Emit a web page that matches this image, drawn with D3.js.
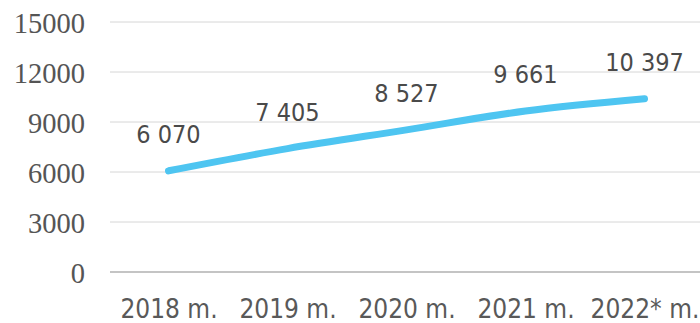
<!DOCTYPE html>
<html>
<head>
<meta charset="utf-8">
<script src="https://cdn.jsdelivr.net/npm/d3@7"></script>
<style>
  html, body { margin: 0; padding: 0; background: #fff; }
  svg { display: block; }
</style>
</head>
<body>
<svg id="chart" width="700" height="323"></svg>
<script>
// Yearly totals
const years = ["2018 m.", "2019 m.", "2020 m.", "2021 m.", "2022* m."];
const values = [6070, 7405, 8527, 9661, 10397];
const yTicks = [0, 3000, 6000, 9000, 12000, 15000];
const valueLabels = ["6 070", "7 405", "8 527", "9 661", "10 397"];

const svg = d3.select("#chart");
const margin = { left: 109, right: -4, top: 22, bottom: 51 };
const W = 700, H = 323;

const x = d3.scalePoint()
  .domain(years)
  .range([margin.left, W - margin.right])
  .padding(0.5);

const y = d3.scaleLinear()
  .domain([0, 15000])
  .range([H - margin.bottom, margin.top]);

// Horizontal gridlines
svg.append("g")
  .selectAll("line")
  .data(yTicks.filter(d => d > 0))
  .join("line")
  .attr("x1", 110).attr("x2", W)
  .attr("y1", d => y(d)).attr("y2", d => y(d))
  .attr("stroke", "#d6d6d6")
  .attr("stroke-width", 1);

// Baseline
svg.append("line")
  .attr("x1", 110).attr("x2", W)
  .attr("y1", y(0)).attr("y2", y(0))
  .attr("stroke", "#c4c4c4")
  .attr("stroke-width", 2);

// Y axis labels
const yAxis = d3.axisLeft(y).tickValues(yTicks).tickSize(0).tickPadding(0)
  .tickFormat(d3.format("d"));
const gy = svg.append("g").attr("transform", "translate(85,0)").call(yAxis);
gy.select(".domain").remove();
gy.selectAll("text")
  .attr("font-family", "'Liberation Serif', 'Times New Roman', serif")
  .attr("font-size", 28.5)
  .attr("fill", "#555555")
  .attr("dy", "0.36em");

// X axis labels
const xAxis = d3.axisBottom(x).tickSize(0).tickPadding(0);
const gx = svg.append("g").attr("transform", "translate(0,318)").call(xAxis);
gx.select(".domain").remove();
gx.selectAll("text")
  .attr("font-family", "'DejaVu Sans Condensed', 'DejaVu Sans', sans-serif")
  .attr("font-stretch", "condensed")
  .attr("font-size", 26)
  .attr("fill", "#595959")
  .attr("dy", 0);

// Series line
const line = d3.line()
  .x((d, i) => x(years[i]))
  .y(d => y(d))
  .curve(d3.curveMonotoneX);

svg.append("path")
  .datum(values)
  .attr("d", line)
  .attr("fill", "none")
  .attr("stroke", "#4ec5f1")
  .attr("stroke-width", 7)
  .attr("stroke-linecap", "round")
  .attr("stroke-linejoin", "round");

// Value labels above points
svg.append("g")
  .selectAll("text")
  .data(values)
  .join("text")
  .attr("x", (d, i) => x(years[i]))
  .attr("y", d => y(d) - 28)
  .attr("text-anchor", "middle")
  .attr("font-family", "'DejaVu Sans Condensed', 'DejaVu Sans', sans-serif")
  .attr("font-stretch", "condensed")
  .attr("font-size", 25)
  .attr("fill", "#4a4a4a")
  .text((d, i) => valueLabels[i]);
</script>
</body>
</html>
